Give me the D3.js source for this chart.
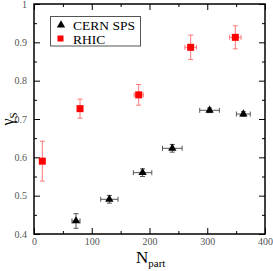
<!DOCTYPE html>
<html>
<head>
<meta charset="utf-8">
<script src="https://cdn.jsdelivr.net/npm/d3@7"></script>
<style>
  body { margin: 0; background: #fff; }
  svg { display: block; }
</style>
</head>
<body>
<script>
// data
var spsNpart = [72.7, 130.5, 188, 239.5, 304, 362.5];
var spsGamma = [0.434, 0.4905, 0.56, 0.6235, 0.7227, 0.713];
var spsXerr = [7, 15, 16, 17, 17, 12];
var spsYerr = [0.019, 0.01, 0.01, 0.01, 0.006, 0.006];

var rhicNpart = [14.4, 79.7, 181.3, 271.3, 348.6];
var rhicGamma = [0.59, 0.727, 0.763, 0.887, 0.913];
var rhicXerr = [0, 4, 8, 10, 10];
var rhicYerr = [0.052, 0.025, 0.027, 0.032, 0.03];

var xTicks = [0, 100, 200, 300, 400];
var yTicks = [0.4, 0.5, 0.6, 0.7, 0.8, 0.9, 1];

var W = 273, H = 271;
var margin = { top: 4, right: 8, bottom: 37, left: 34 },
  width = W - margin.left - margin.right,
  height = H - margin.top - margin.bottom;

var svg = d3.select("body").append("svg").attr("width", W).attr("height", H);
var g = svg.append("g").attr("transform", "translate(" + margin.left + "," + margin.top + ")");

var x = d3.scaleLinear().domain([0, 400]).range([0, width]);
var y = d3.scaleLinear().domain([0.4, 1]).range([height, 0]);

// axes, ticks inside
function styleAxis(a) {
  a.select(".domain").remove();
  a.selectAll("line").attr("stroke", "#000");
  a.selectAll("text").attr("fill", "#555").style("font-family", "Liberation Serif, serif").style("font-size", "10px");
}
g.append("g").attr("transform", "translate(0," + height + ")")
  .call(d3.axisBottom(x).tickValues(xTicks).tickSize(-6).tickPadding(4).tickFormat(d3.format("d"))).call(styleAxis);
g.append("g").attr("transform", "translate(0," + height + ")")
  .call(d3.axisBottom(x).tickValues([50, 150, 250, 350]).tickSize(-3).tickFormat("")).call(styleAxis);
g.append("g").call(d3.axisTop(x).tickValues(xTicks).tickSize(-6).tickFormat("")).call(styleAxis);
g.append("g").call(d3.axisTop(x).tickValues([50, 150, 250, 350]).tickSize(-3).tickFormat("")).call(styleAxis);
g.append("g")
  .call(d3.axisLeft(y).tickValues(yTicks).tickSize(-6).tickPadding(7).tickFormat(function (d) { return d === 1 ? "1" : d3.format(".1f")(d); }))
  .call(styleAxis);
g.append("g").call(d3.axisLeft(y).tickValues([0.45, 0.55, 0.65, 0.75, 0.85, 0.95]).tickSize(-3).tickFormat("")).call(styleAxis);
g.append("g").attr("transform", "translate(" + width + ",0)")
  .call(d3.axisRight(y).tickValues(yTicks).tickSize(-6).tickFormat("")).call(styleAxis);
g.append("g").attr("transform", "translate(" + width + ",0)")
  .call(d3.axisRight(y).tickValues([0.45, 0.55, 0.65, 0.75, 0.85, 0.95]).tickSize(-3).tickFormat("")).call(styleAxis);

g.append("rect").attr("width", width).attr("height", height)
  .attr("fill", "none").attr("stroke", "#000").attr("stroke-width", 1.5);

// error bars
function errorBars(xs, ys, xe, ye, color) {
  var eb = g.append("g").attr("stroke", color).attr("stroke-width", 1).attr("fill", "none");
  xs.forEach(function (v, i) {
    var cx = x(v), cy = y(ys[i]);
    var y0 = y(ys[i] - ye[i]), y1 = y(ys[i] + ye[i]);
    eb.append("line").attr("x1", cx).attr("x2", cx).attr("y1", y0).attr("y2", y1);
    eb.append("line").attr("x1", cx - 2.5).attr("x2", cx + 2.5).attr("y1", y0).attr("y2", y0);
    eb.append("line").attr("x1", cx - 2.5).attr("x2", cx + 2.5).attr("y1", y1).attr("y2", y1);
    if (xe[i] > 0) {
      var x0 = x(v - xe[i]), x1 = x(v + xe[i]);
      eb.append("line").attr("x1", x0).attr("x2", x1).attr("y1", cy).attr("y2", cy);
      eb.append("line").attr("x1", x0).attr("x2", x0).attr("y1", cy - 2.5).attr("y2", cy + 2.5);
      eb.append("line").attr("x1", x1).attr("x2", x1).attr("y1", cy - 2.5).attr("y2", cy + 2.5);
    }
  });
}
errorBars(spsNpart, spsGamma, spsXerr, spsYerr, "#555");
errorBars(rhicNpart, rhicGamma, rhicXerr, rhicYerr, "#f77");

var tri = d3.symbol().type(d3.symbolTriangle).size(30);
g.selectAll(".sps").data(spsNpart).enter().append("path")
  .attr("class", "sps")
  .attr("transform", function (d, i) { return "translate(" + x(d) + "," + y(spsGamma[i]) + ")"; })
  .attr("d", tri).attr("fill", "#000");

g.selectAll(".rhic").data(rhicNpart).enter().append("rect")
  .attr("class", "rhic")
  .attr("x", function (d) { return x(d) - 3.5; })
  .attr("y", function (d, i) { return y(rhicGamma[i]) - 3.5; })
  .attr("width", 7).attr("height", 7).attr("fill", "#f00");

// legend
var lg = svg.append("g");
lg.append("rect").attr("x", 50.5).attr("y", 16.5).attr("width", 90).attr("height", 29.5)
  .attr("fill", "#fff").attr("stroke", "#555").attr("stroke-width", 1);
lg.append("path").attr("transform", "translate(61,25)").attr("d", tri).attr("fill", "#000");
lg.append("rect").attr("x", 57.5).attr("y", 35.5).attr("width", 6).attr("height", 6).attr("fill", "#f00");
lg.append("text").attr("x", 73).attr("y", 29.5).text("CERN SPS")
  .style("font-family", "Liberation Serif, serif").style("font-size", "13.5px");
lg.append("text").attr("x", 73).attr("y", 43.5).text("RHIC")
  .style("font-family", "Liberation Serif, serif").style("font-size", "13.5px");

// axis titles
svg.append("text").attr("transform", "translate(13,119) rotate(-90)")
  .attr("text-anchor", "middle")
  .style("font-family", "Liberation Serif, serif").style("font-size", "16px")
  .text("γ").append("tspan").attr("dy", 4).style("font-size", "11px").text("S");

svg.append("text").attr("x", 136).attr("y", 263)
  .style("font-family", "Liberation Serif, serif").style("font-size", "17px")
  .text("N").append("tspan").attr("dy", 4).style("font-size", "11px").text("part");
</script>
</body>
</html>
